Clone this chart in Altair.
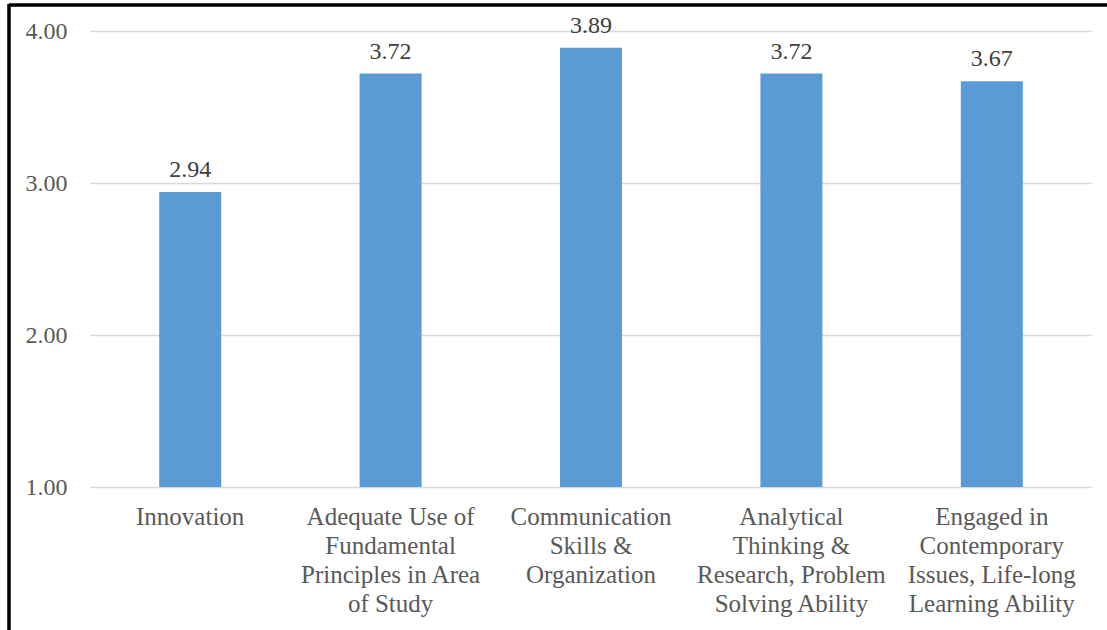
import altair as alt
import pandas as pd

# Mean ratings per outcome area
categories = [
    "Innovation",
    "Adequate Use of\nFundamental\nPrinciples in Area\nof Study",
    "Communication\nSkills &\nOrganization",
    "Analytical\nThinking &\nResearch, Problem\nSolving Ability",
    "Engaged in\nContemporary\nIssues, Life-long\nLearning Ability",
]
scores = [2.94, 3.72, 3.89, 3.72, 3.67]
y_ticks = [1, 2, 3, 4]

df = pd.DataFrame({"area": categories, "score": scores})

FONT = "'Liberation Serif', 'Times New Roman', serif"
TEXT_COLOR = "#595959"
BAR_COLOR = "#5B9BD5"
GRID_COLOR = "#D9D9D9"

x_enc = alt.X(
    "area:N",
    sort=categories,
    title=None,
    scale=alt.Scale(paddingInner=0.69, paddingOuter=0.345),
    axis=alt.Axis(
        labelAngle=0,
        labelExpr="split(datum.label, '\\n')",
        labelFont=FONT,
        labelFontSize=25,
        labelColor=TEXT_COLOR,
        labelLineHeight=29,
        labelPadding=17,
        labelLimit=300,
        ticks=False,
        domain=False,
        grid=False,
    ),
)

y_enc = alt.Y(
    "score:Q",
    title=None,
    scale=alt.Scale(domain=[1, 4], nice=False, zero=False),
    axis=alt.Axis(
        values=y_ticks,
        format=".2f",
        labelFont=FONT,
        labelFontSize=24,
        labelColor=TEXT_COLOR,
        labelPadding=23,
        ticks=False,
        domain=False,
        grid=True,
        gridColor=GRID_COLOR,
        gridWidth=1.5,
    ),
)

bars = alt.Chart(df).mark_bar(color=BAR_COLOR, size=62).encode(x=x_enc, y=y_enc, y2=alt.datum(1))

labels = alt.Chart(df).mark_text(
    font=FONT, fontSize=24, color="#404040", baseline="alphabetic", dy=-15
).encode(x=alt.X("area:N", sort=categories), y="score:Q", text=alt.Text("score:Q", format=".2f"))

# Frame lines along the top and left edges of the canvas
top_rule = alt.Chart(df).mark_rule(color="black", strokeWidth=2.5, clip=False).encode(
    x=alt.value(-81), x2=alt.value(1020), y=alt.value(-26)
)
left_rule = alt.Chart(df).mark_rule(color="black", strokeWidth=2.5, clip=False).encode(
    x=alt.value(-81), y=alt.value(-27), y2=alt.value(605)
)

chart = (
    alt.layer(bars, labels, top_rule, left_rule)
    .properties(
        width=1002,
        height=456,
        autosize=alt.AutoSizeParams(type="none"),
        padding={"left": 90, "top": 31, "right": 15, "bottom": 143},
        background="white",
    )
    .configure_view(stroke=None)
)

chart.save("out.html", embed_options={"renderer": "svg", "actions": False})
